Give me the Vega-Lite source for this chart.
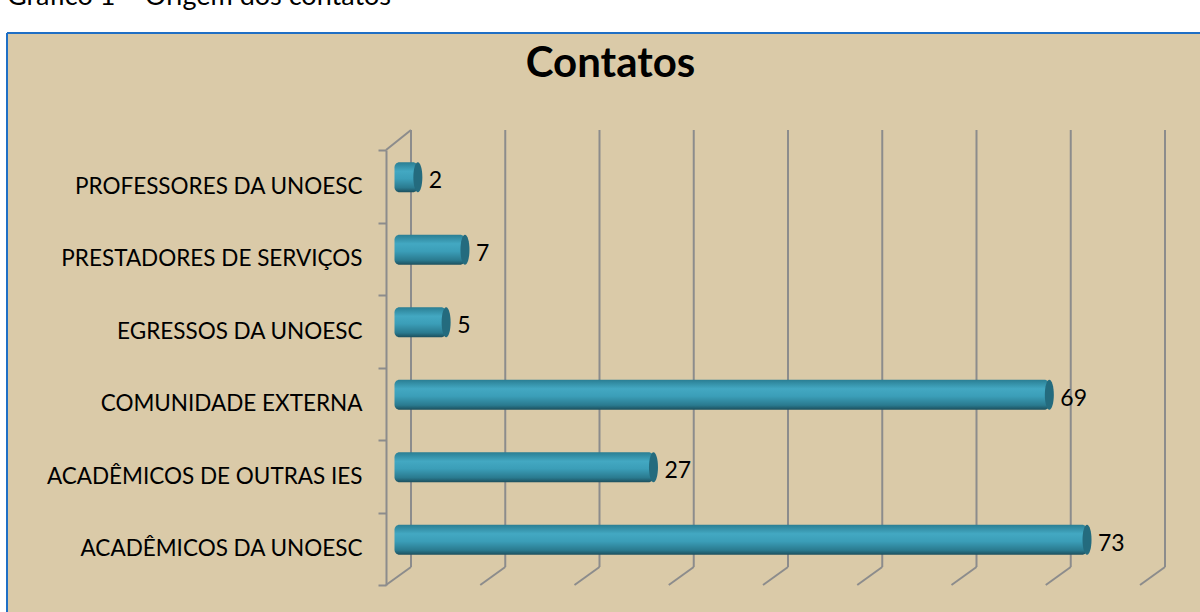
{
  "$schema": "https://vega.github.io/schema/vega-lite/v6.json",
  "width": 1193,
  "height": 579,
  "autosize": "none",
  "padding": {"left": 7, "top": 33, "right": 0, "bottom": 0},
  "background": "white",
  "config": {
    "font": "Lato",
    "view": {"fill": "#DACAA8", "stroke": "#1F6FC5", "strokeWidth": 2, "strokeDash": [1193, 1772, 579, 0]},
    "axisX": {
      "orient": "top",
      "domain": false,
      "ticks": false,
      "labels": false,
      "grid": false,
      "titleFont": "Lato",
      "titleFontSize": 42,
      "titleFontWeight": "bold",
      "titleColor": "black",
      "titleX": 603,
      "titleY": 43,
      "titleAlign": "center",
      "titleBaseline": "alphabetic"
    }
  },
  "title": {
    "text": "Gráfico 1 – Origem dos contatos",
    "anchor": "start",
    "frame": "group",
    "font": "Lato",
    "fontSize": 27,
    "fontWeight": "normal",
    "color": "black",
    "baseline": "alphabetic",
    "offset": -10
  },
  "datasets": {
    "contatos": [
      {"origem": "PROFESSORES DA UNOESC", "n": 2},
      {"origem": "PRESTADORES DE SERVIÇOS", "n": 7},
      {"origem": "EGRESSOS DA UNOESC\u00a0", "n": 5},
      {"origem": "COMUNIDADE EXTERNA", "n": 69},
      {"origem": "ACADÊMICOS DE OUTRAS IES\u00a0", "n": 27},
      {"origem": "ACADÊMICOS DA UNOESC", "n": 73}
    ],
    "grade": [
      {"v": 0}, {"v": 10}, {"v": 20}, {"v": 30}, {"v": 40},
      {"v": 50}, {"v": 60}, {"v": 70}, {"v": 80}
    ]
  },
  "layer": [
    {
      "layer": [
        {
          "data": {"name": "grade"},
          "mark": {"type": "rule", "color": "#8C8C8C", "strokeWidth": 2, "xOffset": 25, "yOffset": -18, "y2Offset": -20},
          "encoding": {
            "x": {"field": "v", "type": "quantitative", "scale": {"domain": [0, 80], "range": [379, 1133]}, "axis": {"orient": "top", "title": "Contatos"}},
            "y": {"datum": 0, "type": "quantitative", "scale": {"domain": [0, 1], "range": [552, 117]}, "axis": null},
            "y2": {"datum": 1}
          }
        },
        {
          "data": {"name": "grade"},
          "mark": {"type": "rule", "color": "#8C8C8C", "strokeWidth": 2, "x2Offset": 25, "y2Offset": -18},
          "encoding": {
            "x": {"field": "v", "type": "quantitative", "scale": {"domain": [0, 80], "range": [379, 1133]}, "axis": {"orient": "top", "title": "Contatos"}},
            "x2": {"field": "v"},
            "y": {"datum": 0, "type": "quantitative", "scale": {"domain": [0, 1], "range": [552, 117]}, "axis": null},
            "y2": {"datum": 0}
          }
        },
        {
          "data": {"values": [{"v": 0}]},
          "mark": {"type": "rule", "color": "#8C8C8C", "strokeWidth": 2, "x2Offset": 25, "y2Offset": -20},
          "encoding": {
            "x": {"field": "v", "type": "quantitative", "scale": {"domain": [0, 80], "range": [379, 1133]}, "axis": {"orient": "top", "title": "Contatos"}},
            "x2": {"field": "v"},
            "y": {"datum": 1, "type": "quantitative", "scale": {"domain": [0, 1], "range": [552, 117]}, "axis": null},
            "y2": {"datum": 1}
          }
        }
      ]
    },
    {
      "data": {"name": "contatos"},
      "encoding": {
        "y": {
          "field": "origem",
          "type": "nominal",
          "sort": null,
          "scale": {"range": [117, 552], "paddingInner": 0, "paddingOuter": 0},
          "axis": {
            "orient": "left",
            "offset": -379,
            "title": null,
            "grid": false,
            "domainColor": "#8C8C8C",
            "domainWidth": 2,
            "tickColor": "#8C8C8C",
            "tickWidth": 2,
            "tickSize": 8,
            "tickBand": "extent",
            "labelFont": "Lato",
            "labelFontSize": 22.5,
            "labelColor": "black",
            "labelPadding": 16,
            "labelLimit": 0
          }
        },
        "x": {
          "field": "n",
          "type": "quantitative",
          "scale": {"domain": [0, 80], "range": [379, 1133]},
          "axis": {"orient": "top", "title": "Contatos"}
        }
      },
      "layer": [
        {
          "mark": {
            "type": "bar",
            "size": 30,
            "xOffset": 13,
            "x2Offset": 8.5,
            "yOffset": -9,
            "cornerRadius": 5,
            "fill": {
              "gradient": "linear",
              "x1": 0, "y1": 0, "x2": 0, "y2": 1,
              "stops": [
                {"offset": 0, "color": "#2A7E93"},
                {"offset": 0.3, "color": "#43A8C2"},
                {"offset": 0.55, "color": "#3B9EB8"},
                {"offset": 0.85, "color": "#2A7A8F"},
                {"offset": 1, "color": "#1C4F5D"}
              ]
            }
          },
          "encoding": {"x2": {"datum": 0}}
        },
        {
          "mark": {
            "type": "point",
            "shape": "M0,-1A0.3,1 0 1,1 0,1A0.3,1 0 1,1 0,-1Z",
            "size": 900,
            "filled": true,
            "fill": "#246B7E",
            "opacity": 1,
            "strokeWidth": 0,
            "xOffset": 13,
            "yOffset": -9
          }
        },
        {
          "mark": {"type": "text", "align": "left", "baseline": "middle", "dx": 24, "dy": -5, "font": "Lato", "fontSize": 23, "color": "black"},
          "encoding": {"text": {"field": "n", "type": "quantitative"}}
        }
      ]
    }
  ],
  "resolve": {"scale": {"y": "independent"}}
}
